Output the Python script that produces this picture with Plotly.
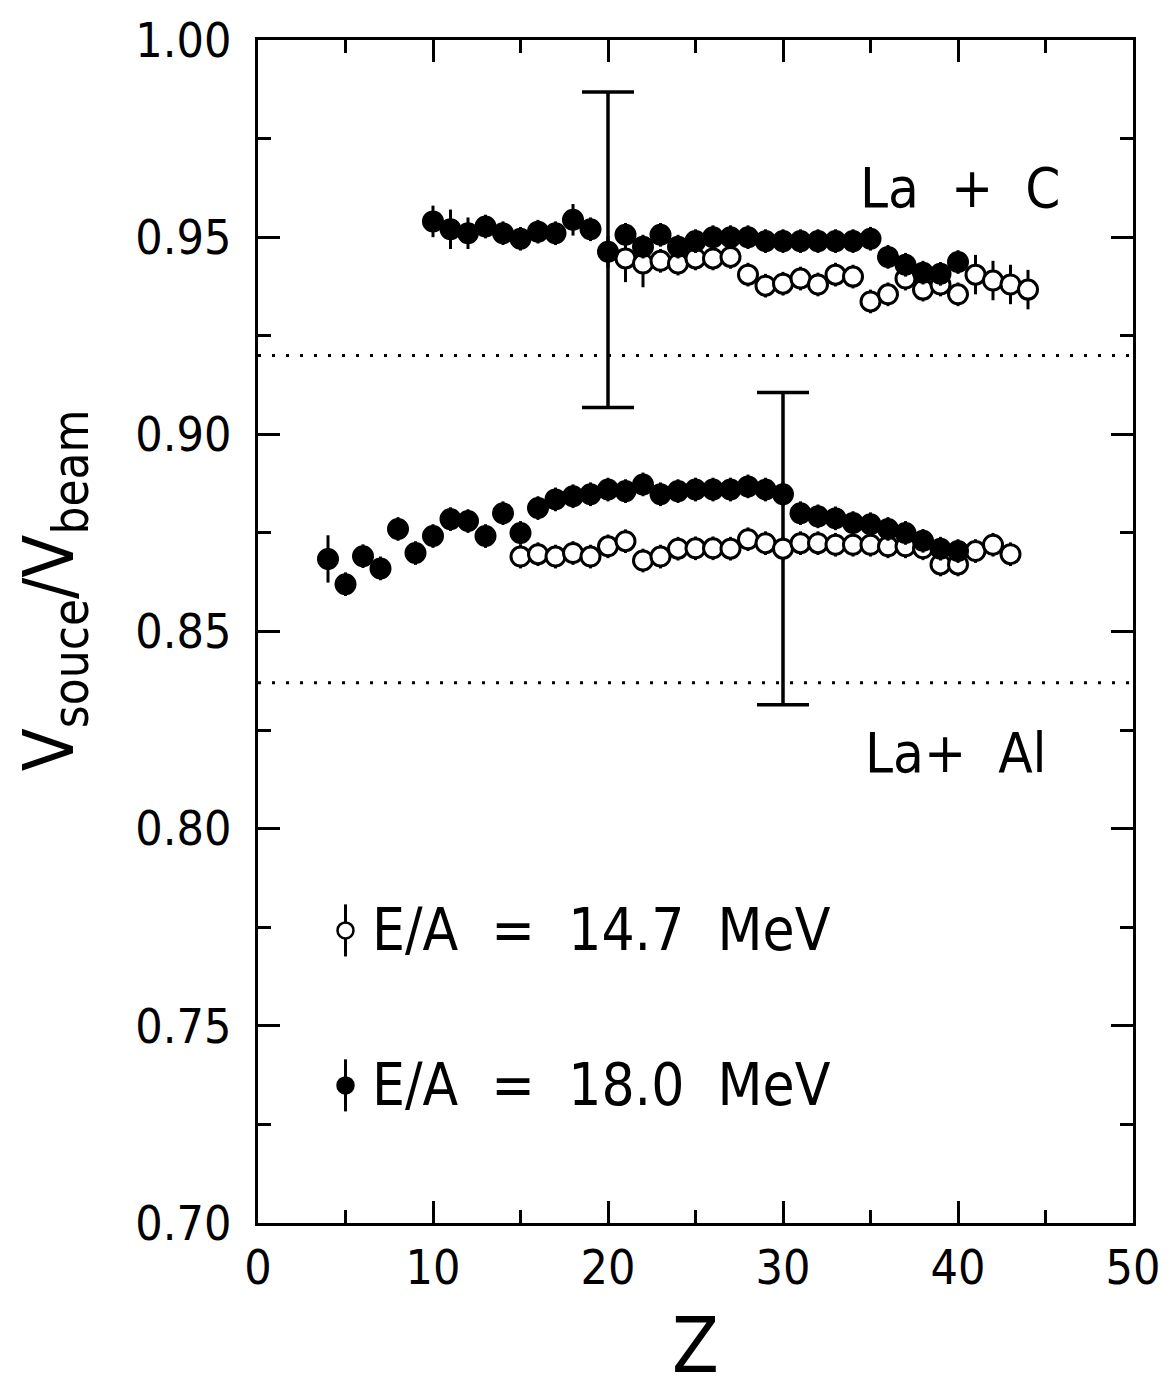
import plotly.graph_objects as go

FONT = "Liberation Sans Narrow, DejaVu Sans Condensed, Arial Narrow, sans-serif"

# ---- La + C, E/A = 18.0 MeV (filled) ----
z_c18 = list(range(10, 41))
v_c18 = [0.954, 0.952, 0.951, 0.9527, 0.951, 0.9496, 0.9514, 0.951, 0.9544, 0.952,
         0.9463, 0.9506, 0.9476, 0.9506, 0.9476, 0.949, 0.950, 0.950, 0.950, 0.949,
         0.949, 0.949, 0.949, 0.949, 0.949, 0.9496, 0.945, 0.943, 0.941, 0.9407, 0.9437]
e_c18 = [0.004, 0.005, 0.004, 0.003, 0.003, 0.003, 0.003, 0.003, 0.004, 0.003,
         0.004, 0.003, 0.003, 0.003, 0.003, 0.003, 0.003, 0.003, 0.003, 0.003,
         0.003, 0.003, 0.003, 0.003, 0.003, 0.003, 0.003, 0.003, 0.003, 0.003, 0.003]

# ---- La + C, E/A = 14.7 MeV (open) ----
z_c147 = list(range(21, 45))
v_c147 = [0.9446, 0.9433, 0.944, 0.9433, 0.9446, 0.9446, 0.945, 0.9405, 0.9377, 0.9382,
          0.9395, 0.938, 0.9405, 0.940, 0.9337, 0.9355, 0.9395, 0.9367, 0.938, 0.9355,
          0.9405, 0.939, 0.938, 0.9367]
e_c147 = [0.006, 0.006, 0.003, 0.003, 0.003, 0.003, 0.003, 0.003, 0.003, 0.003,
          0.003, 0.003, 0.003, 0.003, 0.003, 0.003, 0.003, 0.003, 0.003, 0.003,
          0.005, 0.005, 0.005, 0.005]

# ---- La + Al, E/A = 18.0 MeV (filled) ----
z_al18 = list(range(4, 41))
v_al18 = [0.8684, 0.862, 0.8691, 0.866, 0.876, 0.8699, 0.8742, 0.8785, 0.878, 0.8742,
          0.880, 0.875, 0.8813, 0.8835, 0.8843, 0.8848, 0.886, 0.8856, 0.8873, 0.8848,
          0.8856, 0.886, 0.886, 0.886, 0.8868, 0.886, 0.8848, 0.880, 0.8792, 0.8787,
          0.8775, 0.8772, 0.876, 0.875, 0.873, 0.871, 0.8704]
e_al18 = [0.006, 0.003, 0.003, 0.003, 0.003, 0.003, 0.003, 0.003, 0.003, 0.003,
          0.003, 0.003, 0.003, 0.003, 0.003, 0.003, 0.003, 0.003, 0.003, 0.003,
          0.003, 0.003, 0.003, 0.003, 0.003, 0.003, 0.003, 0.003, 0.003, 0.003,
          0.003, 0.003, 0.003, 0.003, 0.003, 0.003, 0.003]

# ---- La + Al, E/A = 14.7 MeV (open) ----
z_al147 = list(range(15, 44))
v_al147 = [0.869, 0.8696, 0.869, 0.8699, 0.869, 0.8716, 0.8729, 0.868, 0.869, 0.871,
           0.8711, 0.8711, 0.871, 0.8734, 0.8724, 0.871, 0.8724, 0.8724, 0.872, 0.872,
           0.872, 0.8716, 0.8716, 0.8711, 0.867, 0.867, 0.8704, 0.872, 0.8696]
e_al147 = [0.003] * len(z_al147)

# ---- systematic error bars ----
z_sys = [20, 30]
v_sys = [0.9468, 0.8710]
e_sys = [0.0400, 0.0396]

# ---- dotted reference levels ----
z_ref = [0, 50]
ref_levels = [0.920, 0.837]

# ---- legend entries ----
leg_z = [5.0]
leg_v = [0.7742, 0.7349]
leg_text = ["E/A\u00a0\u00a0=\u00a0\u00a014.7\u00a0\u00a0MeV", "E/A\u00a0\u00a0=\u00a0\u00a018.0\u00a0\u00a0MeV"]

# ---- labels ----
x_ticks = [0, 10, 20, 30, 40, 50]
y_ticks = [0.70, 0.75, 0.80, 0.85, 0.90, 0.95, 1.00]
y_ticklabels = ["0.70", "0.75", "0.80", "0.85", "0.90", "0.95", "1.00"]

fig = go.Figure()

for lvl in ref_levels:
    fig.add_trace(go.Scatter(x=z_ref, y=[lvl, lvl], mode="lines",
                             line=dict(color="black", width=3, dash="3px,11px"),
                             hoverinfo="skip", showlegend=False))

fig.add_trace(go.Scatter(x=z_sys, y=v_sys, mode="markers",
                         marker=dict(size=1, color="rgba(0,0,0,0)"),
                         error_y=dict(type="data", array=e_sys, color="black",
                                      thickness=3.5, width=26),
                         showlegend=False))


def add_series(z, v, e, filled):
    fig.add_trace(go.Scatter(
        x=z, y=v, mode="markers",
        marker=dict(symbol="circle", size=19,
                    color="black" if filled else "white",
                    line=dict(color="black", width=3)),
        error_y=dict(type="data", array=e, color="black", thickness=3, width=0),
        showlegend=False))


add_series(z_al147, v_al147, e_al147, False)
add_series(z_al18, v_al18, e_al18, True)
add_series(z_c147, v_c147, e_c147, False)
add_series(z_c18, v_c18, e_c18, True)

# legend markers
for i, (vv, filled) in enumerate(zip(leg_v, [False, True])):
    fig.add_trace(go.Scatter(
        x=leg_z, y=[vv], mode="markers",
        marker=dict(symbol="circle", size=16,
                    color="black" if filled else "white",
                    line=dict(color="black", width=2.5)),
        error_y=dict(type="data", array=[0.0066], color="black", thickness=3, width=0),
        showlegend=False))
    fig.add_annotation(x=6.4, y=vv, xref="x", yref="y", text=leg_text[i],
                       showarrow=False, xanchor="left", yanchor="middle",
                       font=dict(family=FONT, size=58, color="black"))

fig.add_annotation(x=40.1, y=0.9625, xref="x", yref="y", text="La\u00a0\u00a0+\u00a0\u00a0C",
                   showarrow=False, font=dict(family=FONT, size=56, color="black"))
fig.add_annotation(x=39.9, y=0.8192, xref="x", yref="y", text="La+\u00a0\u00a0Al",
                   showarrow=False, font=dict(family=FONT, size=56, color="black"))

# y-axis title
fig.add_annotation(x=-0.233, y=0.535, xref="paper", yref="paper",
                   text="V<sub>souce</sub>/V<sub>beam</sub>", textangle=-90,
                   showarrow=False, xanchor="center", yanchor="middle",
                   font=dict(family=FONT, size=70, color="black"))

axis_common = dict(showline=True, linecolor="black", linewidth=3, mirror="ticks",
                   ticks="inside", ticklen=22, tickwidth=3, tickcolor="black",
                   showgrid=False, zeroline=False,
                   tickfont=dict(family=FONT, size=48, color="black"))

fig.update_xaxes(range=[0, 50], tickvals=x_ticks,
                 minor=dict(ticks="inside", ticklen=13, tickwidth=3, tickcolor="black", dtick=5),
                 title=dict(text="Z", font=dict(family=FONT, size=76, color="black"), standoff=30),
                 **axis_common)
fig.update_yaxes(range=[0.70, 1.00], tickvals=y_ticks, ticktext=y_ticklabels,
                 minor=dict(ticks="inside", ticklen=13, tickwidth=3, tickcolor="black", dtick=0.025),
                 ticklabelstandoff=14,
                 **axis_common)

fig.update_layout(width=1172, height=1390, paper_bgcolor="white", plot_bgcolor="white",
                  margin=dict(l=258, r=29, t=38, b=167), showlegend=False)

fig.write_html("out.html")
